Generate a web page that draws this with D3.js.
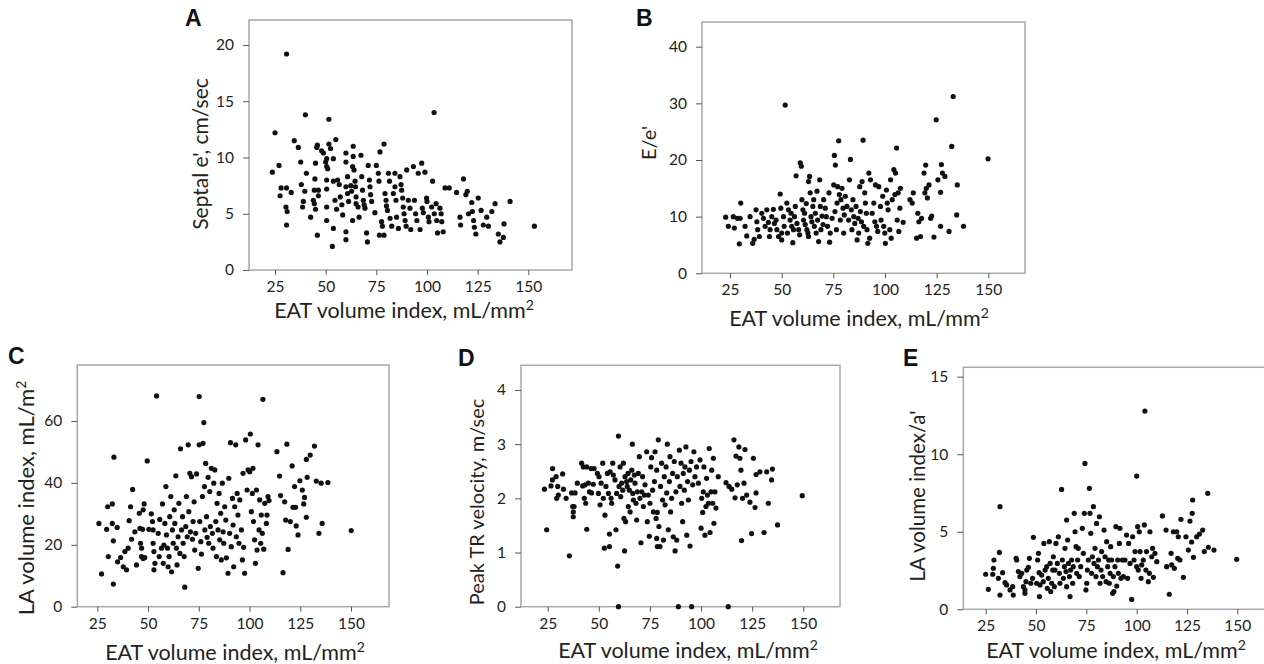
<!doctype html>
<html>
<head>
<meta charset="utf-8">
<style>
  body { margin: 0; background: #fff; }
  svg { display: block; }
  .tick text { font-family: Lato, "Open Sans", sans-serif; font-size: 15.5px; fill: #222; }
  .tick line { stroke: #555; }
  .frame { fill: none; stroke: #a8a8a8; stroke-width: 1.5px; }
  .dot { fill: #111; }
  .lbl { font-family: Lato, "Open Sans", sans-serif; fill: #222; }
  .letter { font-family: "Liberation Sans", Arial, sans-serif; font-weight: bold; font-size: 23px; fill: #111; }
</style>
<script src="https://d3js.org/d3.v7.min.js"></script>
</head>
<body>
<svg width="1264" height="664"></svg>
<script>
// EAT volume index ticks, shared by every panel
var xTicks = [25, 50, 75, 100, 125, 150];

// A: septal e' (cm/sec) vs EAT volume index
var septalTicks = [0, 5, 10, 15, 20];
var septalPts = [
[23.7,8.7],[25,12.2],[27,9.3],[30.7,19.2],[27.5,6.6],[28,7.3],[30.7,7.3],[30.4,5.6],[31,5.2],[30.7,4.0],
[33,6.9],[34.5,11.5],[36.5,10.9],[37.7,9.6],[38,7.6],[38.6,5.6],[39,6.1],[40,13.8],[39.7,7.0],[40.5,8.6],
[42.6,4.7],[43.9,6.2],[44.4,7.1],[44.7,8.1],[45,9.5],[45.6,10.9],[45.9,11.1],[44.4,5.9],[45,5.4],[45.9,3.1],
[46.4,6.6],[46.4,7.1],[48,10.6],[48.9,10.4],[50,9.6],[50.5,9.2],[51,9.0],[50.5,9.9],[51.6,13.4],[51.6,11.2],
[52.4,10.8],[50.5,8.0],[50.5,7.2],[50.5,5.6],[50.5,4.4],[53.8,9.9],[55,11.6],[53.8,7.9],[54.6,6.2],[55.4,5.4],
[53.3,2.1],[53.8,3.7],[55.9,8.0],[56.7,7.6],[57.2,6.5],[58,5.8],[58.4,4.9],[60,10.4],[60,9.6],[60.8,8.3],
[60,7.4],[60.8,6.8],[60,3.4],[60,2.7],[61.3,6.1],[62.4,7.5],[62.8,7.0],[63.3,9.2],[63.6,11.0],[63.6,10.1],
[64,8.9],[64.5,7.9],[64.7,7.4],[65,6.5],[65,5.9],[66,5.6],[66.5,4.7],[63.3,4.4],[67.4,10.2],[67.8,8.3],
[68.2,7.1],[68.6,6.2],[69,5.8],[69.4,5.5],[70.2,3.3],[70.6,2.5],[71,9.3],[71.6,8.0],[71.9,7.4],[72.2,6.7],
[72.7,6.1],[74.3,5.1],[75,9.3],[76,8.6],[76.3,7.9],[76.8,10.5],[78.8,11.2],[76.5,3.1],[77.6,4.3],[78,3.9],
[78.8,3.1],[79.3,6.8],[79.8,6.2],[80,5.7],[80.5,5.3],[81,8.6],[81.5,7.9],[81.8,4.6],[82.6,3.9],[83.4,6.8],
[84.2,8.6],[84.2,7.4],[84.7,6.2],[85,4.7],[85.9,3.7],[86.7,8.3],[87.2,7.6],[87.5,7.1],[88,6.4],[88.3,5.6],
[88.7,5.0],[89.2,4.4],[89.7,3.9],[90,8.9],[90.8,6.2],[91.6,5.5],[92,3.6],[93.3,9.2],[93.8,6.2],[94.4,5.0],
[95,4.4],[95.7,8.6],[96.6,3.6],[97.4,9.5],[97.7,5.5],[98.2,5.1],[99,8.7],[99.8,6.4],[100,6.1],[100.7,4.7],
[101,4.3],[102.3,5.6],[102.8,7.9],[103.5,14.0],[103.6,5.0],[104.5,5.9],[104.8,4.4],[105.2,3.3],[106.4,5.5],[107,5.0],
[107.3,4.3],[108,3.4],[108.9,7.3],[111,7.3],[114.6,6.9],[116.3,4.7],[116.6,4.0],[118,8.1],[119.2,6.7],[119.9,7.0],
[120.5,5.0],[122.1,6.0],[122.4,5.2],[123,4.4],[123.4,3.8],[124.1,3.2],[125.3,6.4],[126.7,5.3],[127.8,4.0],[129.5,4.7],
[130.3,3.9],[132,5.2],[133.6,5.9],[135.2,3.2],[136,2.5],[137.7,2.9],[138,4.1],[141,6.1],[153,3.9]
];

// B: E/e' vs EAT volume index
var eeTicks = [0, 10, 20, 30, 40];
var eePts = [
[22.9,9.9],[24.2,8.3],[26.6,10.0],[27.1,8.0],[28.6,9.7],[29.5,5.2],[30.2,12.4],[29.9,9.7],[32.3,8.3],[33.1,6.6],
[34.7,10.0],[36,5.3],[36.7,6.0],[37.6,11.2],[38,9.1],[38.4,7.7],[39.2,6.5],[40.4,10.6],[41.2,9.7],[42,8.3],
[42.8,11.2],[43.6,9.0],[44.1,6.5],[44.4,7.7],[45.2,10.0],[46,11.3],[46.5,8.8],[47.3,9.4],[47.7,7.7],[48.5,6.5],
[49.3,14.0],[49.6,11.5],[50,7.1],[50,5.9],[50.9,10.0],[51.2,8.3],[51.7,29.7],[52.5,12.4],[52.8,7.1],[53.3,11.2],
[54.1,9.4],[54.6,10.6],[54.9,8.3],[55.4,5.4],[55.7,7.7],[56.2,10.0],[56.6,11.8],[57,17.2],[57.4,8.8],[58.2,7.7],
[58.7,6.8],[59,19.5],[59.5,18.9],[59.8,13.0],[60.3,11.2],[60.6,9.4],[61.1,10.6],[61.4,8.6],[61.9,12.3],[62.2,7.7],
[62.7,7.1],[63,6.5],[63,16.2],[63.5,17.1],[63.8,14.2],[64.2,10.0],[64.6,9.1],[65.1,11.8],[65.5,13.0],[65.8,8.3],
[66.3,10.6],[66.7,7.1],[67.1,14.5],[67.4,9.4],[67.9,5.6],[68.4,16.5],[68.7,11.8],[69,7.7],[69.5,10.1],[70,8.6],
[70.3,13.0],[71.1,11.5],[71.6,10.0],[72.2,8.3],[72.9,14.2],[73.2,5.5],[73.5,7.1],[74.4,9.7],[75.2,15.6],[75.5,20.8],
[75.8,10.9],[76,19.1],[76.5,7.7],[76.8,12.4],[77.1,15.3],[77.6,23.4],[77.9,13.9],[78.4,9.4],[78.7,13.0],[79.2,15.0],
[79.7,11.5],[80,7.1],[80.3,10.3],[80.8,13.6],[81.6,11.8],[82.4,9.4],[82.8,16.5],[83.3,20.1],[83.7,11.2],[84,7.7],
[84.5,13.0],[84.9,10.0],[85.4,8.8],[86,11.8],[86.5,5.9],[87,9.7],[87.3,7.1],[87.8,15.3],[88.1,10.9],[88.6,9.1],
[88.9,16.2],[89.4,23.5],[89.7,8.3],[90.2,14.2],[90.5,12.4],[91,10.6],[91.3,7.7],[91.7,5.3],[92.2,17.7],[92.6,6.2],
[93,16.5],[93.8,10.6],[94.6,12.4],[95.1,9.1],[95.4,15.6],[95.9,8.3],[96.5,7.4],[97,15.3],[97.8,11.8],[98.1,9.4],
[98.9,13.6],[99.4,8.3],[99.9,7.1],[100.2,5.3],[100.7,14.7],[101.1,12.4],[101.5,11.2],[102.3,7.7],[102.7,16.5],[103,6.2],
[103.5,13.0],[104.3,18.3],[104.8,13.9],[105.1,17.7],[105.6,22.1],[105.9,9.4],[106.4,14.2],[106.7,7.4],[107.2,11.5],[107.5,15.0],
[108.8,9.0],[112.1,13.0],[113.2,12.4],[113.7,14.2],[115.3,6.2],[115.9,10.6],[116.4,9.1],[117.2,6.5],[117.7,9.7],[118.9,17.7],
[119.3,14.2],[119.7,19.1],[120,15.0],[120.5,13.3],[121.3,15.6],[122.1,9.7],[122.6,10.1],[123.7,6.4],[124.8,27.1],[125.6,16.5],
[126.9,14.3],[127.3,19.2],[127.8,17.7],[126.9,8.3],[129,17.1],[131,7.4],[132.3,22.4],[133,31.2],[134.7,10.3],[135,15.6],
[138,8.3],[149.9,20.2]
];

// C: LA volume index (mL/m2) vs EAT volume index
var laviTicks = [0, 20, 40, 60];
var laviPts = [
[25.8,26.9],[27.1,10.6],[29.6,25.0],[30.1,32.3],[30.4,16.2],[32.4,33.2],[32.4,26.9],[32.9,21.3],[32.9,7.3],[33.2,48.3],
[34.8,25.6],[35,14.5],[36.5,15.9],[37.8,12.9],[38.6,17.8],[39.4,11.9],[40.2,18.9],[40.7,27.8],[41.4,32.3],[41.9,21.8],
[42.4,37.9],[43.5,24.2],[44.3,13.5],[45.7,30.2],[46,25.3],[46.3,20.5],[46.8,18.9],[46.8,16.2],[47.3,25.0],[47.6,31.3],
[48.1,33.2],[47.6,15.6],[48.4,15.9],[49.6,47.1],[50.4,25.0],[51.6,30.0],[52.2,27.5],[52.5,24.8],[52.5,20.5],[52.9,17.8],
[53.4,14.0],[52.9,11.9],[54.2,68.1],[55,23.7],[55.5,16.2],[55.8,28.2],[56.6,18.9],[57.1,33.2],[57.5,14.0],[57.8,19.9],
[58.3,26.9],[58.8,38.8],[59.1,23.2],[59.6,18.9],[59.9,12.9],[60.4,16.2],[60.7,29.1],[61.2,35.6],[61.6,11.3],[62,24.8],
[62.4,20.5],[62.9,31.3],[63.2,26.9],[63.7,42.3],[64,18.9],[64.3,13.5],[64.8,22.6],[65.2,33.4],[65.7,17.2],[66,51.0],
[66.5,24.8],[67,29.1],[67.3,20.5],[67.8,16.2],[68.1,6.3],[68.6,25.9],[68.9,35.6],[69.3,22.6],[69.8,52.3],[70.1,30.7],
[70.6,43.1],[70.9,24.2],[71.4,42.0],[71.9,21.8],[72.2,27.5],[72.7,33.9],[73,18.3],[73.5,23.7],[73.9,42.9],[74.7,12.4],
[75.2,67.9],[75.2,52.3],[75.5,27.5],[76,21.0],[76.3,17.0],[76.8,35.6],[77.1,52.8],[77.5,59.5],[77.8,38.8],[78,24.8],
[78.4,46.3],[78.8,29.1],[79.1,22.4],[79.6,41.8],[79.9,20.5],[80.4,37.2],[80.7,25.9],[81.2,44.7],[81.7,23.7],[82,18.9],
[82.4,39.9],[82.9,44.2],[83.4,27.5],[83.7,16.2],[84,33.4],[84.5,24.8],[85,36.6],[85.3,21.6],[85.8,30.2],[86.1,15.1],
[86.6,39.9],[87,24.2],[87.3,20.5],[87.8,32.3],[88.3,28.0],[88.6,15.8],[89.4,10.8],[89.8,41.5],[90.2,23.7],[90.6,53.0],
[91,19.4],[91.6,35.0],[91.9,26.4],[92.2,12.9],[92.7,32.3],[93.2,52.3],[93.5,22.6],[93.9,36.6],[94.3,29.6],[94.8,20.5],
[95.2,34.5],[96,24.8],[96.5,15.1],[96.8,43.1],[97.1,19.2],[97.6,10.8],[98.1,53.9],[98.8,37.7],[99.3,44.2],[100.1,43.6],
[100.4,55.8],[100.9,30.7],[101.4,36.6],[101.7,44.7],[102,27.5],[102.5,21.6],[102.9,14.0],[103.4,37.7],[103.7,18.3],[104.2,52.3],
[104.7,24.8],[105,34.5],[105.5,20.5],[105.8,29.6],[106.3,23.7],[106.6,67.0],[107,18.6],[107.5,33.4],[108.3,26.9],[108.6,29.6],
[109.1,35.6],[109.6,34.3],[113.5,50.1],[114.8,42.2],[115.3,35.9],[116.5,11.0],[117.3,33.9],[117.8,28.0],[118.4,52.5],[119,18.5],
[120.1,27.5],[121,45.5],[121.4,32.1],[122.2,38.8],[122.7,32.1],[123,26.1],[123.9,23.2],[124.8,40.7],[126,37.7],[126.7,33.2],
[127.1,35.3],[128,47.6],[128,28.9],[128.4,41.8],[129.9,49.0],[132,51.9],[132.9,40.6],[134.2,23.7],[135.3,39.9],[135.8,26.9],
[138.6,40.1],[150.1,24.6]
];

// D: peak TR velocity (m/sec) vs EAT volume index
var trTicks = [0, 1, 2, 3, 4];
var trPts = [
[23.4,2.17],[24.5,1.42],[26.6,2.23],[27.4,2.55],[27.3,2.34],[29.1,2.40],[29.4,2.0],[30.2,2.06],[29.9,2.22],[32.3,2.45],
[32.7,2.17],[34,2.0],[35.6,0.94],[36.7,2.1],[37.2,1.85],[37.5,1.75],[37.5,1.66],[37.9,1.85],[38.4,2.1],[39.5,2.28],
[41.6,2.65],[42.1,2.23],[42.4,2.58],[42.9,2.0],[43.3,2.25],[43.6,1.91],[44.1,1.43],[44.1,2.58],[44.9,2.28],[45.4,2.12],
[46.2,2.55],[46.5,2.10],[47.3,2.26],[47.7,2.55],[49.3,2.46],[49.8,2.09],[50.1,2.40],[50.6,1.88],[51.1,2.28],[51.9,2.65],
[52.2,2.0],[52.7,1.08],[53,1.69],[53.5,2.22],[54.2,2.46],[54.7,2.09],[55.2,1.11],[55.2,1.34],[55.5,2.49],[56,2.0],
[56.3,1.91],[56.8,2.65],[57.1,2.43],[57.9,2.34],[58.4,1.42],[58.7,2.09],[59.2,0.75],[59.6,3.15],[59.6,0],[59.9,2.22],
[60.4,2.58],[60.7,2.03],[61.2,2.28],[61.7,2.15],[62,2.65],[62.3,1.63],[62.6,1.03],[62.8,2.40],[63.1,1.57],[63.6,2.31],
[63.9,2.22],[64.3,2.46],[64.4,1.85],[64.9,2.15],[65.3,1.75],[65.6,2.34],[66.1,2.52],[66.4,3.0],[66.6,2.09],[66.9,1.97],
[67.4,2.43],[67.7,2.28],[68.2,1.91],[68.5,1.60],[68.8,2.12],[69.3,2.46],[69.8,2.77],[70.1,2.0],[70.6,1.18],[71,2.12],
[71.4,2.40],[71.8,1.85],[72.3,2.06],[72.6,2.25],[73.4,2.86],[73.7,1.57],[74.2,2.06],[74.7,1.30],[75,1.91],[75.4,2.58],
[75.8,2.75],[76.3,2.15],[76.7,1.75],[77.2,2.31],[77.5,2.86],[78,1.63],[78.3,2.52],[78.6,1.74],[79.1,3.08],[79.4,1.48],
[78.3,1.26],[78.6,1.11],[79.9,1.11],[80.2,2.22],[80.7,2.65],[81.2,1.97],[81.6,1.23],[82,2.40],[82.4,1.88],[82.9,2.58],
[83.2,2.10],[83.5,3.0],[84,1.42],[84.5,2.31],[84.8,2.77],[85.1,1.75],[85.6,2.0],[86.1,2.46],[86.4,1.29],[86.9,2.68],
[87.3,1.03],[87.7,2.12],[88.1,1.23],[88.4,2.40],[88.9,0],[89.4,2.89],[89.7,2.22],[90.2,2.65],[90.5,1.91],[91,1.57],
[91.3,2.46],[91.8,2.15],[92.1,2.58],[92.6,2.95],[93,1.32],[93.4,2.31],[93.8,1.97],[94.3,2.52],[94.6,1.12],[95.1,2.68],
[95.4,0],[95.9,2.25],[96.5,2.86],[97,2.40],[97.8,2.58],[98.7,2.28],[99.5,2.71],[100,1.45],[100.3,2.0],[100.8,1.74],
[101.1,2.12],[101.4,2.58],[101.9,1.32],[102.4,1.85],[102.7,2.37],[103.1,2.06],[103.6,1.91],[104,2.92],[104.4,1.37],[104.9,2.12],
[105.2,2.52],[105.7,1.91],[106,2.74],[106.3,1.54],[106.8,2.12],[107.3,1.82],[108.4,2.40],[113.3,0],[112.2,2.29],[113.7,2.22],
[115,2.17],[116.1,3.08],[116.6,2.01],[117.1,2.78],[117.7,2.25],[118.5,2.95],[119,2.74],[119.5,2.52],[119.8,1.22],[120.3,2.0],
[121,2.28],[121.5,2.90],[122.3,2.06],[123.9,1.93],[124.7,1.35],[125.6,2.74],[126.4,1.83],[126.9,2.10],[126.9,2.44],[128.8,2.49],
[130.8,1.37],[132.1,2.49],[132.9,1.91],[134.5,2.34],[134.9,2.54],[137.4,1.51],[149.5,2.05]
];

// E: LA volume index / a' vs EAT volume index
var laaTicks = [0, 5, 10, 15];
var laaPts = [
[25,2.26],[26.3,1.29],[28.8,2.64],[29.1,3.18],[28.5,2.26],[31.3,2.0],[31.8,3.67],[32.1,6.62],[32.1,0.92],[33.4,2.36],
[34.6,1.72],[35.4,1.57],[37.1,1.25],[38.4,1.46],[38.7,0.92],[40.1,3.29],[40.4,3.18],[41.2,2.43],[42,2.11],[42.9,2.32],
[43.7,1.46],[44.5,1.03],[44.5,1.25],[45,1.78],[45.4,2.53],[46.2,2.71],[46.7,3.29],[47.4,1.68],[48.3,2.0],[48.7,4.64],
[50.3,1.68],[50.8,3.18],[51.2,3.61],[51.5,2.36],[51.7,0.82],[52,1.57],[52.8,2.21],[53.6,1.78],[53.9,4.25],[54.5,2.53],
[55.3,2.75],[55.6,1.35],[56.1,2.0],[56.6,4.36],[57,2.96],[57.3,1.14],[57.8,1.68],[58.3,2.53],[58.6,3.39],[59.1,1.46],
[59.4,2.53],[59.9,4.25],[60.6,2.96],[61.1,4.68],[61.6,2.32],[61.9,1.68],[62.7,7.73],[63.1,3.18],[63.6,2.0],[64.1,2.75],
[64.4,3.93],[64.9,2.43],[65.2,5.76],[65.2,1.46],[65.7,4.47],[66.1,2.96],[66.6,2.11],[66.9,0.82],[67.2,2.53],[67.7,3.18],
[68.2,1.68],[68.5,2.75],[69,6.19],[69.4,5.0],[69.9,4.04],[70.2,2.32],[70.7,3.18],[71,3.93],[71.5,2.11],[72.2,2.75],
[73,5.22],[73.5,3.61],[74,6.19],[74.3,9.41],[74.8,1.25],[75.2,1.68],[75.5,2.53],[76,3.18],[76.5,7.80],[76.8,6.19],
[77.2,4.90],[77.6,2.32],[78,3.39],[78.5,6.62],[78.8,2.96],[79.3,3.93],[79.8,2.11],[80.1,5.54],[80.5,2.75],[81,3.18],
[81.5,5.97],[81.8,1.68],[82.3,2.53],[82.6,3.72],[83.1,2.11],[83.8,5.11],[84.3,3.39],[84.8,1.78],[85.1,4.36],[85.6,2.75],
[86.1,3.18],[86.4,1.68],[86.8,2.32],[87.1,4.04],[87.6,3.18],[88.1,1.03],[88.4,2.11],[88.7,1.14],[89.2,2.75],[89.7,5.33],
[90.1,1.50],[90.6,3.18],[90.9,2.32],[91.4,4.25],[91.7,5.22],[92.2,2.0],[92.9,3.18],[93.4,2.11],[94.2,3.18],[95,4.79],
[95.5,2.0],[96,4.25],[96.7,2.96],[97.5,0.64],[98,4.68],[98.7,3.18],[99.2,3.72],[100,8.59],[100,2.75],[100.5,5.33],
[100.8,2.53],[101.3,5.0],[101.7,3.72],[102.2,2.0],[102.5,2.86],[103.3,3.18],[103.8,5.44],[104.1,12.78],[104.6,2.53],[104.9,3.72],
[105.8,1.78],[106.3,2.32],[106.6,5.0],[107.5,3.39],[107.9,3.93],[108.3,2.06],[109.1,3.61],[110,3.07],[112.8,6.02],[114.6,5.11],
[114.9,2.75],[116.2,0.97],[117.1,3.61],[117.4,2.86],[118.2,5.0],[118.7,2.64],[119.9,5.0],[120.4,3.29],[120.7,4.68],[121.5,3.18],
[122,5.80],[123.2,2.06],[124.5,4.68],[125.7,3.82],[126.5,5.69],[127.3,4.34],[127.6,6.19],[127.8,7.05],[128.2,3.35],[129.8,4.68],
[131.2,4.85],[132.8,5.11],[133.6,3.72],[135.3,7.48],[135.6,4.0],[138.4,3.82],[149.7,3.22]
];

var svg = d3.select("svg");

// tick anchors (pixel of x=25 / x=150, y=0 / y=top tick) and frame box per panel
var panels = [
  {letter: "A", lx: 185, ly: 26, pts: septalPts, yTicks: septalTicks,
   x25: 275, x150: 528.3, y0: 270, yTopPx: 45, box: [249, 20, 572, 270],
   ylab: ["Septal e', cm/sec"], ylabX: 208, ylabY: 154, ylabSize: 21,
   xlabX: 404, xlabY: 318},
  {letter: "B", lx: 636, ly: 26, pts: eePts, yTicks: eeTicks,
   x25: 730, x150: 988.3, y0: 273.3, yTopPx: 46.7, box: [702, 22, 1025, 273.3],
   ylab: ["E/e'"], ylabX: 656, ylabY: 143, ylabSize: 20,
   xlabX: 859, xlabY: 326},
  {letter: "C", lx: 8, ly: 364, pts: laviPts, yTicks: laviTicks,
   x25: 97.3, x150: 351, y0: 606.7, yTopPx: 421, box: [77.3, 365, 389, 606.7],
   ylab: ["LA volume index, mL/m", "2"], ylabX: 34, ylabY: 498, ylabSize: 22,
   xlabX: 235, xlabY: 660},
  {letter: "D", lx: 458, ly: 366, pts: trPts, yTicks: trTicks,
   x25: 547.7, x150: 803.3, y0: 606.7, yTopPx: 390, box: [521, 365.3, 840, 606.7],
   ylab: ["Peak TR velocity, m/sec"], ylabX: 484, ylabY: 502, ylabSize: 20,
   xlabX: 688, xlabY: 658},
  {letter: "E", lx: 903, ly: 366, pts: laaPts, yTicks: laaTicks,
   x25: 985.7, x150: 1237.3, y0: 609.3, yTopPx: 376.7, box: [963.3, 367.3, 1272, 609.3],
   ylab: ["LA volume index/a'"], ylabX: 925, ylabY: 496, ylabSize: 20.5,
   xlabX: 1116, xlabY: 658}
];

panels.forEach(function(p) {
  var yTop = p.yTicks[p.yTicks.length - 1];
  var x = d3.scaleLinear().domain([25, 150]).range([p.x25, p.x150]);
  var y = d3.scaleLinear().domain([0, yTop]).range([p.y0, p.yTopPx]);
  var b = p.box;

  var g = svg.append("g");

  g.append("rect")
   .attr("class", "frame")
   .attr("x", b[0]).attr("y", b[1])
   .attr("width", b[2] - b[0]).attr("height", b[3] - b[1]);

  var xa = g.append("g")
   .attr("transform", "translate(0," + b[3] + ")")
   .call(d3.axisBottom(x).tickValues(xTicks).tickFormat(d3.format("d"))
         .tickSize(5).tickSizeOuter(0).tickPadding(6));
  xa.select(".domain").remove();

  var ya = g.append("g")
   .attr("transform", "translate(" + b[0] + ",0)")
   .call(d3.axisLeft(y).tickValues(p.yTicks).tickFormat(d3.format("d"))
         .tickSize(6).tickSizeOuter(0).tickPadding(9));
  ya.select(".domain").remove();

  g.selectAll(".dot")
   .data(p.pts)
   .enter().append("circle")
   .attr("class", "dot")
   .attr("cx", function(d) { return x(d[0]); })
   .attr("cy", function(d) { return y(d[1]); })
   .attr("r", 2.6);

  // panel letter
  g.append("text").attr("class", "letter")
   .attr("x", p.lx).attr("y", p.ly).text(p.letter);

  // x title
  var xt = g.append("text").attr("class", "lbl")
   .attr("x", p.xlabX).attr("y", p.xlabY)
   .attr("text-anchor", "middle")
   .style("font-size", "21.5px");
  xt.append("tspan").text("EAT volume index, mL/mm");
  xt.append("tspan").attr("dy", -8).style("font-size", "14px").text("2");

  // y title
  var yt = g.append("text").attr("class", "lbl")
   .attr("transform", "translate(" + p.ylabX + "," + p.ylabY + ") rotate(-90)")
   .attr("text-anchor", "middle")
   .style("font-size", p.ylabSize + "px");
  yt.append("tspan").text(p.ylab[0]);
  if (p.ylab[1]) {
    yt.append("tspan").attr("dy", -8).style("font-size", "14px").text(p.ylab[1]);
  }
});
</script>
</body>
</html>
